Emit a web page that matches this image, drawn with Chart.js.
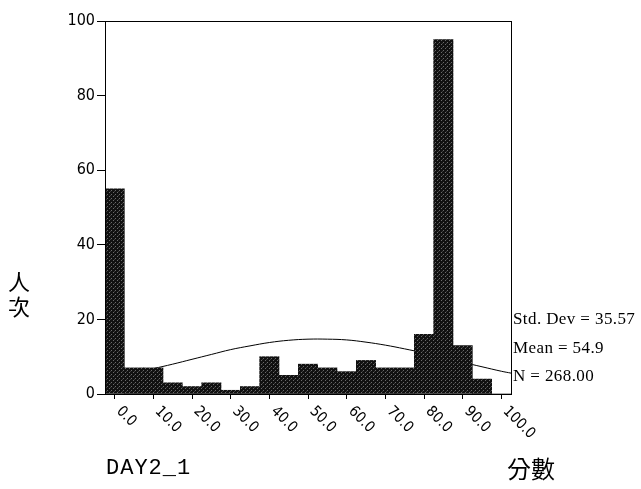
<!DOCTYPE html>
<html>
<head>
<meta charset="utf-8">
<script src="https://cdn.jsdelivr.net/npm/chart.js@4.4.0/dist/chart.umd.min.js"></script>
<style>
  html, body { margin: 0; padding: 0; background: #fff; }
  #wrap { position: relative; width: 641px; height: 489px; }
  canvas { position: absolute; left: 0; top: 0; }
  .lbl { position: absolute; color: #000; white-space: nowrap; }
  .stats { font-family: "Liberation Serif", "DejaVu Serif", serif; font-size: 17px; letter-spacing: 0.4px; }
</style>
</head>
<body>
<div id="wrap">
  <canvas id="hist" width="641" height="489"></canvas>
  <div class="lbl" style="left:8px;top:268px;font-family:'Noto Sans CJK TC';font-size:22px;line-height:25px;width:24px;">人<br>次</div>
  <div class="lbl" style="left:106px;top:456px;font-family:'Liberation Mono','DejaVu Sans Mono',monospace;font-size:22px;letter-spacing:1px;">DAY2_1</div>
  <div class="lbl" style="left:507px;top:450px;font-family:'Noto Sans CJK TC';font-size:24px;">分數</div>
  <div class="lbl stats" style="left:513px;top:309px;">Std. Dev = 35.57</div>
  <div class="lbl stats" style="left:513px;top:338px;">Mean = 54.9</div>
  <div class="lbl stats" style="left:513px;top:366px;">N = 268.00</div>
</div>
<script>
// --- histogram data (bin centres, counts)
const binCentres = [0, 5, 10, 15, 20, 25, 30, 35, 40, 45, 50, 55, 60, 65, 70, 75, 80, 85, 90, 95, 100];
const binCounts  = [55, 7, 7, 3, 2, 3, 1, 2, 10, 5, 8, 7, 6, 9, 7, 7, 16, 95, 13, 4, 0];

// --- normal curve
const curveX = [0, 5, 10, 15, 20, 25, 30, 35, 40, 45, 50, 55, 60, 65, 70, 75, 80, 85, 90, 95, 100, 102.5];
const curveY = [4.4, 5.6, 6.8, 8.0, 9.3, 10.6, 11.9, 12.9, 13.8, 14.4, 14.7, 14.7, 14.5, 13.9, 13.1, 12.1, 11.0, 9.8, 8.5, 7.3, 6.1, 5.6];

// --- axis ticks
const xTicks = [0, 10, 20, 30, 40, 50, 60, 70, 80, 90, 100];
const yTicks = [0, 20, 40, 60, 80, 100];

// dark stippled fill like the scanned bars
function stipple() {
  const c = document.createElement("canvas");
  c.width = 4; c.height = 4;
  const g = c.getContext("2d");
  g.fillStyle = "#111";
  g.fillRect(0, 0, 4, 4);
  g.fillStyle = "#6a6a6a";
  g.fillRect(1, 0, 1, 1);
  g.fillRect(3, 2, 1, 1);
  g.fillStyle = "#3a3a3a";
  g.fillRect(2, 3, 1, 1);
  return g.createPattern(c, "repeat");
}

const framePlugin = {
  id: "frame",
  afterDraw(chart) {
    const { ctx, chartArea: a, scales } = chart;
    ctx.save();
    ctx.strokeStyle = "#000";
    ctx.lineWidth = 1;
    ctx.strokeRect(a.left + 0.5, a.top + 0.5, a.right - a.left, a.bottom - a.top);

    // rotated x tick labels, reading down to the right
    ctx.fillStyle = "#000";
    ctx.font = "15px 'Liberation Sans Narrow', 'DejaVu Sans Condensed', sans-serif";
    ctx.textAlign = "left";
    ctx.textBaseline = "middle";
    xTicks.forEach(v => {
      const px = scales.x.getPixelForValue(v);
      ctx.save();
      ctx.translate(px + 4, a.bottom + 15);
      ctx.rotate(Math.PI / 4);
      ctx.fillText(v.toFixed(1), 0, 0);
      ctx.restore();
    });
    ctx.restore();
  }
};

new Chart(document.getElementById("hist"), {
  data: {
    datasets: [
      {
        type: "bar",
        data: binCentres.map((x, i) => ({ x: x, y: binCounts[i] })),
        backgroundColor: stipple(),
        borderWidth: 0,
        barPercentage: 1,
        categoryPercentage: 1,
        order: 1
      },
      {
        type: "line",
        data: curveX.map((x, i) => ({ x: x, y: curveY[i] })),
        borderColor: "#000",
        borderWidth: 1,
        pointRadius: 0,
        tension: 0.4,
        fill: false,
        order: 2
      }
    ]
  },
  options: {
    responsive: false,
    animation: false,
    layout: { padding: { top: 21, right: 130, left: 0, bottom: 0 } },
    plugins: { legend: { display: false }, tooltip: { enabled: false } },
    scales: {
      x: {
        type: "linear",
        min: -2.5,
        max: 102.5,
        offset: false,
        afterBuildTicks: s => { s.ticks = xTicks.map(v => ({ value: v })); },
        afterFit: s => { s.height = 95; },
        grid: { drawOnChartArea: false, tickLength: 5, color: "#000", offset: false },
        border: { color: "#000" },
        ticks: { display: false }
      },
      y: {
        min: 0,
        max: 100,
        afterBuildTicks: s => { s.ticks = yTicks.map(v => ({ value: v })); },
        afterFit: s => { s.width = 105; },
        grid: { drawOnChartArea: false, tickLength: 8, color: "#000" },
        border: { color: "#000" },
        ticks: {
          color: "#000",
          padding: 2,
          font: { family: "'Liberation Sans Narrow', 'DejaVu Sans Condensed', sans-serif", size: 16 }
        }
      }
    }
  },
  plugins: [framePlugin]
});
</script>
</body>
</html>
